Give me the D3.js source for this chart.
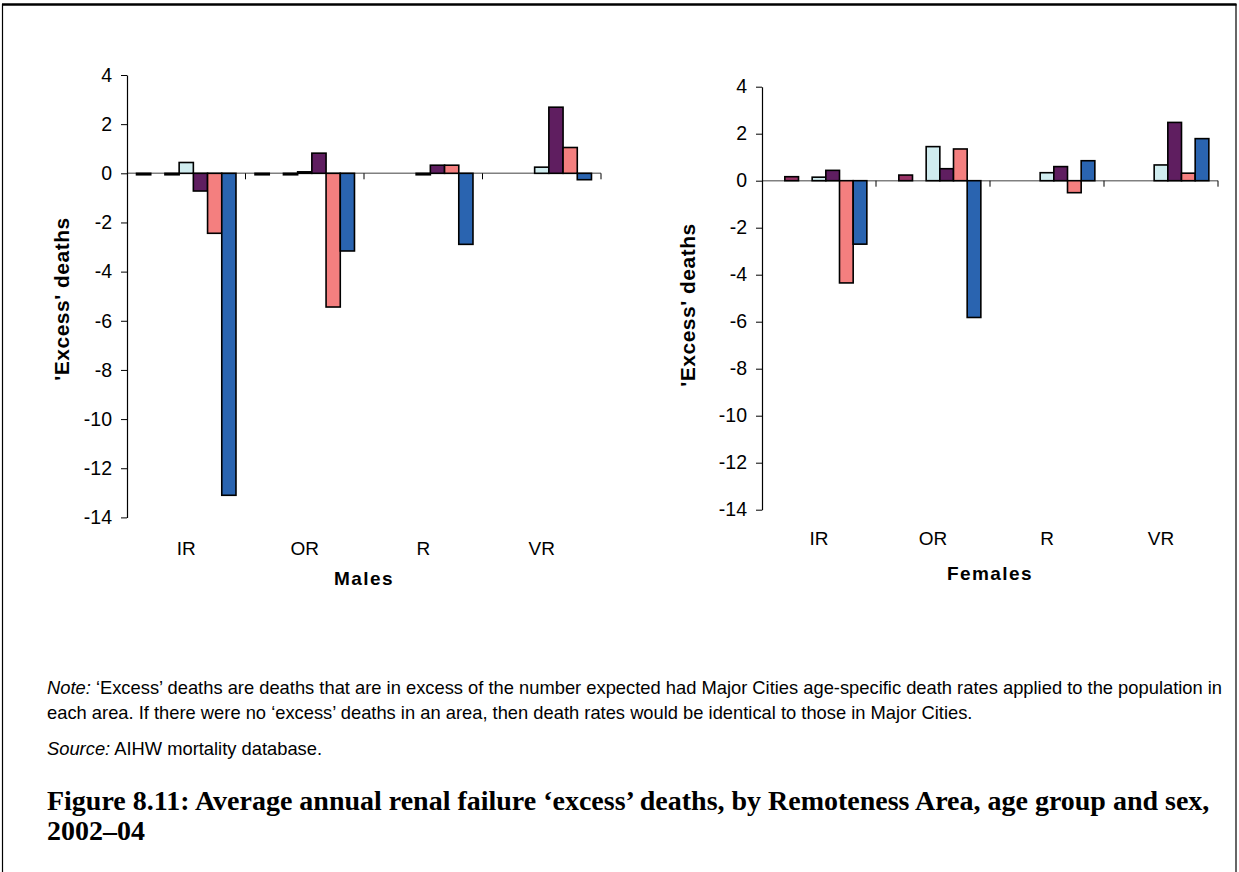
<!DOCTYPE html>
<html><head><meta charset="utf-8">
<script src="https://cdn.jsdelivr.net/npm/d3@7"></script>
<style>body{margin:0;background:#fff} svg{display:block}</style>
</head><body><svg id="c" width="1239" height="872"></svg>
<script>
// ---- data ----
const categories = ["IR", "OR", "R", "VR"];
const seriesNames = ["Age group 1", "Age group 2", "Age group 3", "Age group 4", "Age group 5", "Age group 6", "Age group 7"];
const seriesColors = ["#9999FF", "#993366", "#FFFFCC", "#D0ECEF", "#5F1E60", "#F47F7F", "#2A64B0"];
// one array per series, values for IR, OR, R, VR (null = no bar)
const malesS1 = [-0.06, -0.06, null, null];
const malesS2 = [null, null, null, null];
const malesS3 = [-0.06, -0.06, null, null];
const malesS4 = [0.44, 0.06, -0.06, 0.25];
const malesS5 = [-0.72, 0.82, 0.33, 2.69];
const malesS6 = [-2.44, -5.44, 0.33, 1.05];
const malesS7 = [-13.1, -3.16, -2.89, -0.26];
const femalesS1 = [null, null, null, null];
const femalesS2 = [0.17, 0.24, null, null];
const femalesS3 = [null, null, null, null];
const femalesS4 = [0.15, 1.45, 0.34, 0.67];
const femalesS5 = [0.44, 0.51, 0.6, 2.48];
const femalesS6 = [-4.35, 1.35, -0.51, 0.32];
const femalesS7 = [-2.7, -5.82, 0.85, 1.79];
const yTicks = [4, 2, 0, -2, -4, -6, -8, -10, -12, -14];
const yAxisTitle = "'Excess' deaths";
const noteLine1 = "'Excess' deaths are deaths that are in excess of the number expected had Major Cities age-specific death rates applied to the population in";
const noteLine2 = "each area. If there were no \u2018excess\u2019 deaths in an area, then death rates would be identical to those in Major Cities.";
const sourceText = "AIHW mortality database.";
const figTitle1 = "Figure 8.11: Average annual renal failure \u2018excess\u2019 deaths, by Remoteness Area, age group and sex,";
const figTitle2 = "2002\u201304";

const malesValues = [malesS1, malesS2, malesS3, malesS4, malesS5, malesS6, malesS7];
const femalesValues = [femalesS1, femalesS2, femalesS3, femalesS4, femalesS5, femalesS6, femalesS7];

const svg = d3.select("#c");
const SANS = "'Liberation Sans', Arial, sans-serif";

// frame
svg.append("line").attr("x1", 2).attr("x2", 1236.5).attr("y1", 4.5).attr("y2", 4.5).attr("stroke", "#000").attr("stroke-width", 2.5);
svg.append("line").attr("x1", 2.5).attr("x2", 2.5).attr("y1", 4).attr("y2", 872).attr("stroke", "#000").attr("stroke-width", 1.2);
svg.append("line").attr("x1", 1236).attr("x2", 1236).attr("y1", 4).attr("y2", 872).attr("stroke", "#000").attr("stroke-width", 1.2);

const panels = [
  {values: malesValues, x0: 127, x1: 601, yTop: 75, yBot: 517.4, title: "Males", catY: 555, titleY: 585, ytX: 62, ytY: 299},
  {values: femalesValues, x0: 762, x1: 1218, yTop: 86.7, yBot: 509.7, title: "Females", catY: 545, titleY: 580, ytX: 688, ytY: 305}
];

panels.forEach(p => {
  const g = svg.append("g");
  const y = d3.scaleLinear().domain([4, -14]).range([p.yTop, p.yBot]);
  const x = d3.scaleBand().domain(categories).range([p.x0, p.x1]).padding(0);
  const xs = d3.scaleBand().domain(d3.range(seriesNames.length)).range([0, x.bandwidth()]).paddingInner(0).paddingOuter(0.67);

  // zero (category) axis
  g.append("line").attr("x1", p.x0).attr("x2", p.x1).attr("y1", y(0)).attr("y2", y(0))
    .attr("stroke", "#808080").attr("stroke-width", 1.5);
  categories.forEach((c, i) => {
    const bx = x(c) + x.bandwidth();
    g.append("line").attr("x1", bx).attr("x2", bx).attr("y1", y(0)).attr("y2", y(0) + 6)
      .attr("stroke", "#000").attr("stroke-width", 1);
  });

  // bars
  p.values.forEach((vals, s) => {
    vals.forEach((v, ci) => {
      if (v === null) return;
      const c = categories[ci];
      g.append("rect")
        .attr("x", x(c) + xs(s))
        .attr("y", y(Math.max(0, v)))
        .attr("width", xs.bandwidth())
        .attr("height", Math.abs(y(v) - y(0)))
        .attr("fill", seriesColors[s])
        .attr("stroke", "#000").attr("stroke-width", 1.6);
    });
  });

  // y axis
  const ax = g.append("g").attr("transform", `translate(${p.x0},0)`)
    .call(d3.axisLeft(y).tickValues(yTicks).tickSize(6).tickSizeOuter(0).tickPadding(9).tickFormat(d => String(d)));
  ax.select(".domain").attr("stroke", "#000").attr("stroke-width", 1.2);
  ax.selectAll(".tick line").attr("stroke", "#000");
  ax.selectAll(".tick text").attr("font-family", SANS).attr("font-size", 19.5).attr("fill", "#000");

  // category labels
  categories.forEach(c => {
    g.append("text").attr("x", x(c) + x.bandwidth() / 2).attr("y", p.catY)
      .attr("text-anchor", "middle").attr("font-family", SANS).attr("font-size", 19).text(c);
  });
  g.append("text").attr("x", (p.x0 + p.x1) / 2).attr("y", p.titleY).attr("text-anchor", "middle")
    .attr("font-family", SANS).attr("font-size", 19).attr("font-weight", "bold").attr("letter-spacing", 1.4).text(p.title);
  g.append("text").attr("transform", `translate(${p.ytX + 7},${p.ytY}) rotate(-90)`).attr("text-anchor", "middle")
    .attr("font-family", SANS).attr("font-size", 21).attr("font-weight", "bold").attr("letter-spacing", 0.5).text(yAxisTitle);
});

// notes
function fit(sel, w) {
  let fs = +sel.attr("font-size");
  for (let k = 0; k < 3; k++) {
    const cur = sel.node().getComputedTextLength();
    if (!cur) break;
    fs = fs * w / cur;
    sel.attr("font-size", fs);
  }
}
const n1 = svg.append("text").attr("x", 47).attr("y", 694).attr("font-family", SANS).attr("font-size", 15);
n1.append("tspan").attr("font-style", "italic").text("Note:");
n1.append("tspan").text(" \u2018" + noteLine1.slice(1).replace("'", "\u2019"));
fit(n1, 1175);
const fs = +n1.attr("font-size");
svg.append("text").attr("x", 47).attr("y", 719).attr("font-family", SANS).attr("font-size", fs).text(noteLine2);
const s1 = svg.append("text").attr("x", 47).attr("y", 755).attr("font-family", SANS).attr("font-size", fs);
s1.append("tspan").attr("font-style", "italic").text("Source:");
s1.append("tspan").text(" " + sourceText);

const SERIF = "'Liberation Serif', 'DejaVu Serif', serif";
const t1 = svg.append("text").attr("x", 47).attr("y", 810).attr("font-family", SERIF).attr("font-weight", "bold").attr("font-size", 22).text(figTitle1);
fit(t1, 1162);
svg.append("text").attr("x", 47).attr("y", 840).attr("font-family", SERIF).attr("font-weight", "bold").attr("font-size", t1.attr("font-size")).text(figTitle2);
</script></body></html>
